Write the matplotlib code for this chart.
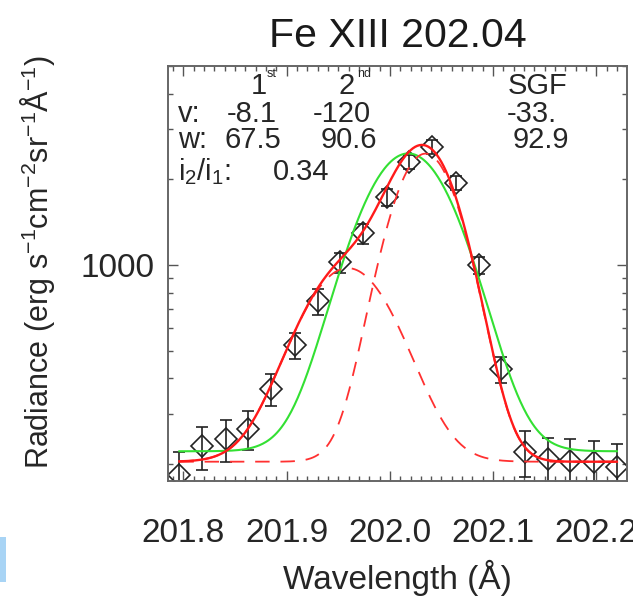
import numpy as np
import matplotlib
matplotlib.use('Agg')
import matplotlib.pyplot as plt
from matplotlib.ticker import LogLocator, FixedLocator, MultipleLocator, NullFormatter, FixedFormatter
from matplotlib.patches import Rectangle

plt.rcParams['font.family'] = ['Liberation Sans', 'DejaVu Sans']
plt.rcParams['mathtext.default'] = 'regular'

# observed spectrum (Fe XIII 202.04)
wavelength = [201.796, 201.818, 201.841, 201.863, 201.885, 201.908, 201.930, 201.952,
              201.974, 201.997, 202.019, 202.041, 202.064, 202.086, 202.108, 202.131,
              202.153, 202.175, 202.198, 202.220]
radiance = [183, 231, 245, 266, 367, 524, 748, 1022, 1292, 1733, 2305, 2601,
            1944, 1000, 432, 221, 209, 206, 203, 196]
radiance_err = [38, 40, 41, 41, 48, 55, 78, 85, 105, 120, 130, 140,
                115, 67, 45, 41, 39, 40, 38, 39]

# double gaussian fit (red): background + 1st and 2nd components
dg_background = 204
dg_centre = [202.0345, 201.9592]
dg_sigma = [0.03214, 0.04315]
dg_peak = [2258, 772]

# single gaussian fit (green)
sg_background = 222
sg_centre = 202.0178
sg_sigma = 0.04424
sg_peak = 2244

W, H = 633, 597
fig = plt.figure(figsize=(W / 100, H / 100), dpi=100)
ax = fig.add_axes([168.3 / W, 1 - 480.7 / H, (626.7 - 168.3) / W, (480.7 - 66) / H])

ax.errorbar(wavelength, radiance, yerr=radiance_err, fmt='D', ms=11, mfc='none',
            mec='#222222', mew=1.2, ecolor='#222222', elinewidth=1.2, capsize=4.5,
            capthick=1.2, zorder=2)

xx = np.linspace(wavelength[0], wavelength[-1], 400)
g1 = dg_background + dg_peak[0] * np.exp(-0.5 * ((xx - dg_centre[0]) / dg_sigma[0]) ** 2)
g2 = dg_background + dg_peak[1] * np.exp(-0.5 * ((xx - dg_centre[1]) / dg_sigma[1]) ** 2)
dg = g1 + g2 - dg_background
sg = sg_background + sg_peak * np.exp(-0.5 * ((xx - sg_centre) / sg_sigma) ** 2)

ax.plot(xx, sg, color='#33e033', lw=1.5, zorder=3)
ax.plot(xx, g1, color='#ff3030', lw=1.3, ls=(0, (8, 6)), zorder=3)
ax.plot(xx, g2, color='#ff3030', lw=1.3, ls=(0, (8, 6)), zorder=3)
ax.plot(xx, dg, color='#ff1a1a', lw=1.7, zorder=4)

ax.set_yscale('log')
ax.set_xlim(201.7853, 202.2295)
ax.set_ylim(175, 5000)

ax.set_xticks([201.8, 201.9, 202.0, 202.1, 202.2])
ax.set_xticklabels(['201.8', '201.9', '202.0', '202.1', '202.2'])
ax.xaxis.set_minor_locator(MultipleLocator(0.01))
ax.yaxis.set_major_locator(FixedLocator([1000]))
ax.yaxis.set_major_formatter(FixedFormatter(['1000']))
ax.yaxis.set_minor_locator(LogLocator(base=10, subs=np.arange(2, 10)))
ax.yaxis.set_minor_formatter(NullFormatter())

ax.tick_params(which='both', direction='in', top=True, right=True, color='#555555', width=1.0)
ax.tick_params(which='major', length=7)
ax.tick_params(which='minor', length=3.6)
ax.tick_params(axis='x', which='major', pad=27, labelsize=24, labelcolor='#262626')
ax.tick_params(axis='y', which='major', pad=10, labelsize=24, labelcolor='#262626')
for s in ax.spines.values():
    s.set_color('#666666')
    s.set_linewidth(1.4)

def px(x, y, s, size=21, **kw):
    fig.text(x / W, 1 - y / H, s, fontsize=size, color='#262626', va='baseline', ha='left', **kw)

fig.text(397.5 / W, 1 - 47 / H, 'Fe XIII 202.04', fontsize=29.5, color='#1a1a1a',
         ha='center', va='baseline')
fig.text(397.5 / W, 1 - 589 / H, 'Wavelength (Å)', fontsize=24, color='#262626',
         ha='center', va='baseline')
fig.text(38 / W, 1 - 262 / H, 'Radiance (erg s$^{-1}$cm$^{-2}$sr$^{-1}$Å$^{-1}$)',
         fontsize=22, color='#262626', ha='center', va='center', rotation=90)

# fit results block
px(251, 94, '1')
px(267, 77, 'st', size=9)
px(339, 94, '2')
px(357, 77, 'nd', size=9)
px(508, 94, 'SGF')
px(178, 122, 'v:')
px(227, 122, '-8.1')
px(313, 122, '-120')
px(507, 122, '-33.')
px(178, 148, 'w:')
px(225, 148, '67.5')
px(321, 148, '90.6')
px(513, 148, '92.9')
px(178, 180, 'i$_2$/i$_1$:')
px(273, 180, '0.34')

fig.patches.append(Rectangle((0, 1 - 582 / H), 6 / W, 45 / H, transform=fig.transFigure,
                             facecolor='#a8d4f5', edgecolor='none'))

fig.savefig('out.png', dpi=100)
